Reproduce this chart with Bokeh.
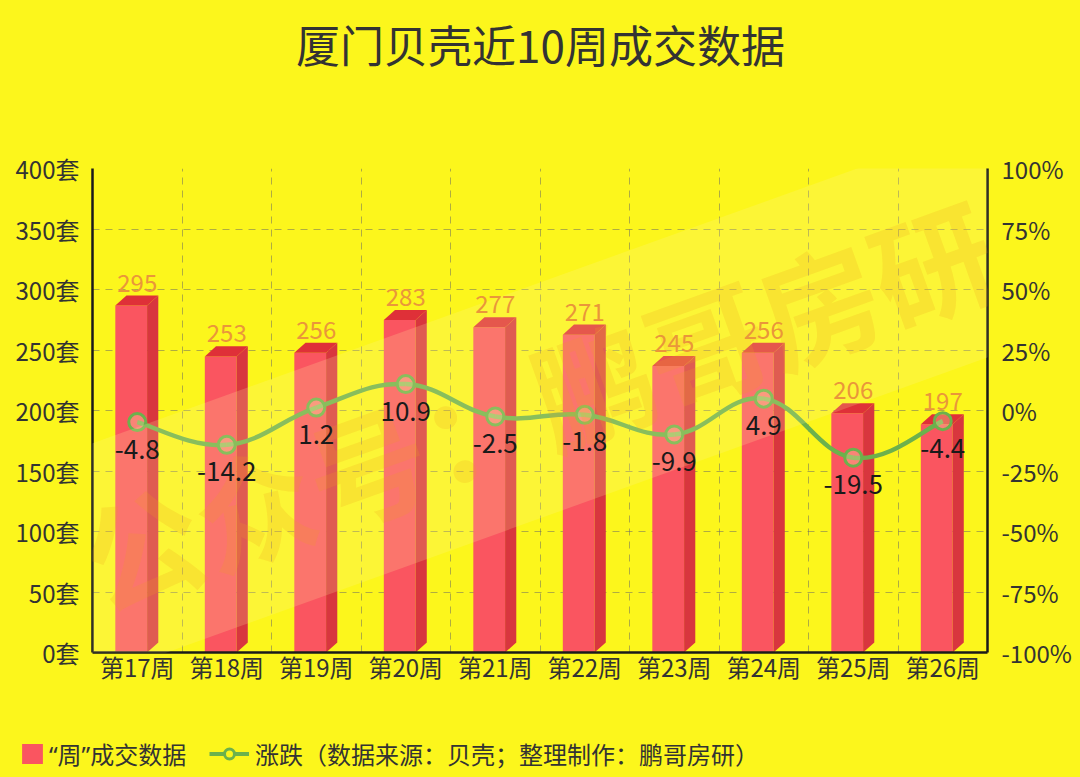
import numpy as np
from bokeh.plotting import figure
from bokeh.models import (Range1d, LinearAxis, FixedTicker, ColumnDataSource,
                          LabelSet, Label, Legend, LegendItem)
from bokeh.core.properties import value
from bokeh.embed import file_html
from bokeh.resources import INLINE

# ---------------- data ----------------
weeks = ["第17周", "第18周", "第19周", "第20周", "第21周",
         "第22周", "第23周", "第24周", "第25周", "第26周"]
deals = [295, 253, 256, 283, 277, 271, 245, 256, 206, 197]
change = [-4.8, -14.2, 1.2, 10.9, -2.5, -1.8, -9.9, 4.9, -19.5, -4.4]
left_ticks = [0, 50, 100, 150, 200, 250, 300, 350, 400]
left_tick_labels = ["0套", "50套", "100套", "150套", "200套", "250套", "300套", "350套", "400套"]
right_ticks = [-100, -75, -50, -25, 0, 25, 50, 75, 100]
right_tick_labels = ["-100%", "-75%", "-50%", "-25%", "0%", "25%", "50%", "75%", "100%"]
title_text = "厦门贝壳近10周成交数据"
legend_bar = "“周”成交数据"
legend_line = "涨跌（数据来源：贝壳；整理制作：鹏哥房研）"
watermark_text = "公众号：鹏哥房研"

# ---------------- style ----------------
BG = "#fcf61c"
FONT = "Noto Sans CJK SC"
LEG_FONT = "'Noto Sans', 'Noto Sans CJK SC'"
FRONT = "#fa5560"
SIDE = "#d8363e"
TOP = "#df3038"
GREEN = "#6cb14c"
DEPTH = 8.3          # vertical depth of 3D bar (left-axis units)
FL, FR, SR = -0.245, 0.11, 0.235   # front-left, front-right, side-right offsets
W = 1080
H_HEAD, H_MAIN, H_FOOT = 118, 576, 82

n = len(weeks)
xc = np.arange(n, dtype=float)
v = np.array(deals, dtype=float)
ch = np.array(change, dtype=float)


def blank(height):
    f = figure(width=W, height=height, x_range=Range1d(0, W), y_range=Range1d(0, height),
               output_backend="svg", toolbar_location=None, x_axis_location=None,
               y_axis_location=None, min_border=0, background_fill_color=BG,
               border_fill_color=BG, outline_line_color=None)
    f.grid.visible = False
    return f


# ---------------- header (title) ----------------
head = blank(H_HEAD)
head.add_layout(Label(x=W / 2, y=H_HEAD - 43, text=title_text, text_align="center",
                      text_baseline="middle", text_font=FONT, text_font_size="44px",
                      text_color="#333333"))

# ---------------- main chart ----------------
p = figure(width=W, height=H_MAIN, x_range=Range1d(-0.5, n - 0.5), y_range=Range1d(0, 400),
           output_backend="svg", toolbar_location=None,
           min_border_left=92, min_border_right=93, min_border_top=50, min_border_bottom=H_MAIN - 534,
           background_fill_color=BG, border_fill_color=BG, outline_line_color=None)
p.extra_y_ranges = {"pct": Range1d(-100, 100)}

p.xgrid.ticker = FixedTicker(ticks=[i - 0.5 for i in range(n + 1)])
p.ygrid.ticker = FixedTicker(ticks=left_ticks)
for g in (p.xgrid, p.ygrid):
    g.grid_line_color = "#707060"
    g.grid_line_alpha = 0.55
    g.grid_line_dash = "7 6"
    g.grid_line_width = 1

p.xaxis.ticker = FixedTicker(ticks=list(range(n)))
p.xaxis.major_label_overrides = {i: w for i, w in enumerate(weeks)}
p.yaxis.ticker = FixedTicker(ticks=left_ticks)
p.yaxis.major_label_overrides = {t: s for t, s in zip(left_ticks, left_tick_labels)}
raxis = LinearAxis(y_range_name="pct", ticker=FixedTicker(ticks=right_ticks),
                   major_label_overrides={t: s for t, s in zip(right_ticks, right_tick_labels)})
p.add_layout(raxis, "right")
for ax in (p.xaxis[0], p.yaxis[0], raxis):
    ax.axis_line_color = "#1a1a1a"
    ax.axis_line_width = 2.5
    ax.major_tick_line_color = None
    ax.minor_tick_line_color = None
    ax.major_label_text_font = FONT
    ax.major_label_text_font_size = "24px"
    ax.major_label_text_color = "#333333"
p.xaxis.major_label_standoff = -10
p.yaxis.major_label_standoff = 7
raxis.major_label_standoff = 8

# watermark
p.add_layout(Label(x=(n - 1) / 2 - 0.05, y=207, text=watermark_text, angle=0.345,
                   text_align="center", text_baseline="middle",
                   text_font=FONT, text_font_size="120px", text_font_style="bold",
                   text_color="#f2a21e", text_alpha=0.2,
                   background_fill_color="#fff3a0", background_fill_alpha=0.2,
                   padding=24, border_radius=30))

# 3D bars
bar_src = ColumnDataSource(dict(left=xc + FL, right=xc + FR, top=v - DEPTH, bottom=np.zeros(n)))
p.quad(left="left", right="right", top="top", bottom="bottom", source=bar_src,
       fill_color=FRONT, line_color=None)
side_xs = [[c + FR, c + SR, c + SR, c + FR] for c in xc]
side_ys = [[0, DEPTH, val, val - DEPTH] for val in v]
p.patches(side_xs, side_ys, fill_color=SIDE, line_color=None)
top_xs = [[c + FL, c + FR, c + SR, c + FL + (SR - FR)] for c in xc]
top_ys = [[val - DEPTH, val - DEPTH, val, val] for val in v]
p.patches(top_xs, top_ys, fill_color=TOP, line_color=None)

bar_lbl = ColumnDataSource(dict(x=xc, y=v, t=[str(d) for d in deals]))
p.add_layout(LabelSet(x="x", y="y", text="t", source=bar_lbl, y_offset=13,
                      text_align="center", text_baseline="middle",
                      text_font=value(FONT), text_font_size="24px", text_color="#ea963a"))

# smooth change line
k = 0.2
px = xc
py = ch
prev_x = np.r_[px[0], px[:-1]]; prev_y = np.r_[py[0], py[:-1]]
next_x = np.r_[px[1:], px[-1]]; next_y = np.r_[py[1:], py[-1]]
cx0 = px[:-1] + k * (next_x[:-1] - prev_x[:-1])
cy0 = py[:-1] + k * (next_y[:-1] - prev_y[:-1])
cx1 = px[1:] - k * (next_x[1:] - prev_x[1:])
cy1 = py[1:] - k * (next_y[1:] - prev_y[1:])
p.bezier(x0=px[:-1], y0=py[:-1], x1=px[1:], y1=py[1:], cx0=cx0, cy0=cy0, cx1=cx1, cy1=cy1,
         line_color=GREEN, line_width=4.5, y_range_name="pct")
p.scatter(px, py, size=17, marker="circle", line_color=GREEN, line_width=3,
          fill_color="#f7e0a0", fill_alpha=0.35, y_range_name="pct")

chg_lbl = ColumnDataSource(dict(x=xc, y=ch, t=[f"{c:g}" for c in change]))
p.add_layout(LabelSet(x="x", y="y", text="t", source=chg_lbl, y_range_name="pct", y_offset=-27,
                      text_align="center", text_baseline="middle",
                      text_font=value(FONT), text_font_size="26px", text_color="#1a1a1a"))

# ---------------- footer (legend) ----------------
foot = blank(H_FOOT)
# legend proxies placed outside the visible range of the footer
r_bar = foot.quad(left=[-20], right=[-10], top=[-10], bottom=[-20], fill_color=FRONT, line_color=None)
r_line = foot.line(x=[-20, -10], y=[-20, -20], line_color=GREEN, line_width=4)
r_pt = foot.scatter(x=[-15], y=[-20], size=13, marker="circle", line_color=GREEN,
                    line_width=3, fill_color=BG)

common = dict(orientation="horizontal", glyph_height=25, padding=0, margin=0, spacing=0,
              background_fill_alpha=0, border_line_color=None,
              label_text_font=LEG_FONT, label_text_font_size="24px", label_text_color="#333333")
leg1 = Legend(items=[LegendItem(label=legend_bar, renderers=[r_bar])],
              location=(19, 5), glyph_width=26, label_standoff=4, **common)
leg2 = Legend(items=[LegendItem(label=legend_line, renderers=[r_line, r_pt])],
              location=(209, 5), glyph_width=40, label_standoff=6, **common)
foot.add_layout(leg1)
foot.add_layout(leg2)

html = file_html([head, p, foot], INLINE)
css = "<style>html, body { background-color: %s; }</style></head>" % BG
html = html.replace("</head>", css, 1)
open("out.html", "w").write(html)
